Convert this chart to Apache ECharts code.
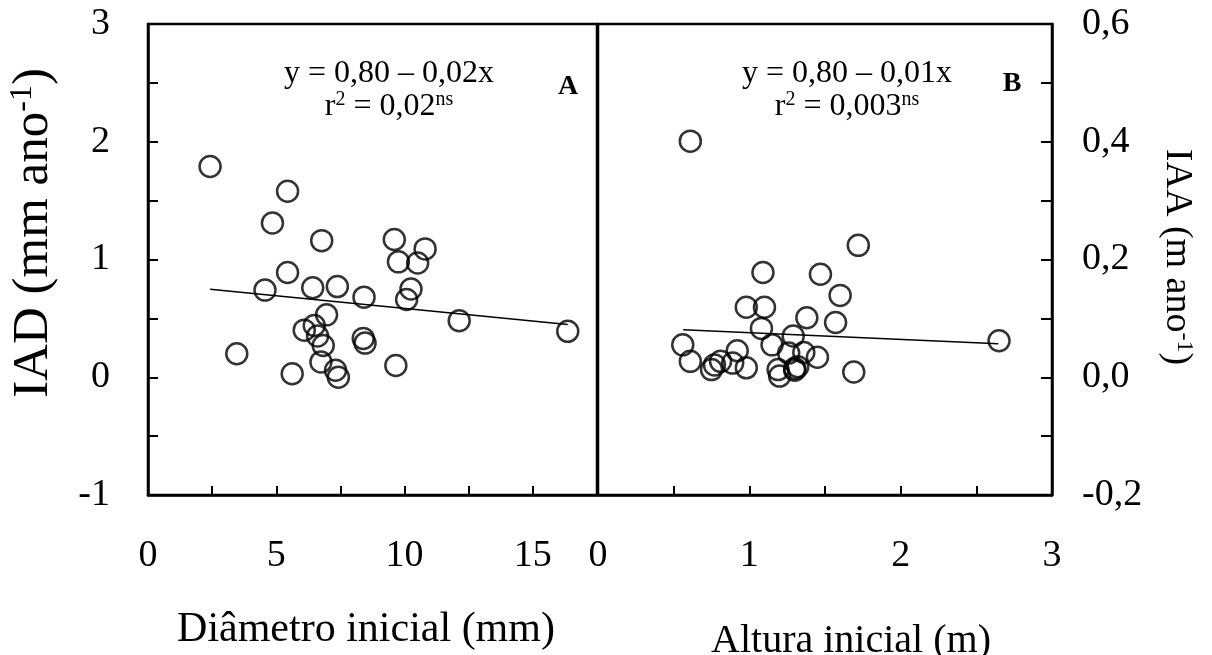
<!DOCTYPE html>
<html>
<head>
<meta charset="utf-8">
<script src="https://cdn.jsdelivr.net/npm/echarts@6/dist/echarts.min.js"></script>
<style>
  html, body { margin: 0; padding: 0; background: #fff; }
  #chart { width: 1212px; height: 655px; }
</style>
</head>
<body>
<div id="chart"></div>
<script>
// Panel A: initial diameter (mm) vs diameter increment IAD (mm/year)
const diametroA = [2.42, 5.44, 4.85, 6.77, 9.60, 10.80, 9.76, 10.51, 5.44, 4.56, 6.42, 7.38, 8.42, 10.25, 10.08,
                   12.13, 16.36, 6.96, 6.09, 6.48, 6.61, 6.83, 8.39, 8.46, 3.46, 6.74, 7.31, 7.42, 5.62, 9.66];
const iadA      = [1.79, 1.58, 1.31, 1.16, 1.17, 1.09, 0.98, 0.97, 0.89, 0.74, 0.76, 0.77, 0.68, 0.75, 0.66,
                   0.48, 0.39, 0.53, 0.40, 0.44, 0.35, 0.27, 0.33, 0.29, 0.20, 0.13, 0.06, 0.00, 0.03, 0.10];

// Panel B: initial height (m) vs height increment IAA (m/year)
const alturaB = [0.61, 1.72, 1.09, 1.47, 1.60, 0.98, 1.10, 1.38, 1.57, 1.08, 1.29, 2.65, 0.56, 1.15, 0.92,
                 1.26, 1.36, 1.45, 0.61, 0.81, 0.89, 0.77, 0.75, 0.98, 1.19, 1.20, 1.30, 1.32, 1.30, 1.69];
const iaaB    = [0.401, 0.224, 0.178, 0.175, 0.139, 0.119, 0.119, 0.101, 0.093, 0.083, 0.070, 0.062, 0.055, 0.055, 0.045,
                 0.041, 0.042, 0.034, 0.027, 0.027, 0.024, 0.021, 0.013, 0.016, 0.013, 0.002, 0.015, 0.018, 0.012, 0.009];

// Linear fits [intercept, slope] and the x span each fitted line covers
const fitA = [0.80, -0.0215];
const spanA = [2.42, 16.36];
const fitB = [0.087, -0.0114];
const spanB = [0.563, 2.645];

// Tick label values
const xTicksA = [0, 5, 10, 15];
const xTicksB = [0, 1, 2, 3];
const yTicksA = [-1, 0, 1, 2, 3];
const yTicksB = [-0.2, 0, 0.2, 0.4, 0.6];

const FONT = "'Liberation Serif', 'Times New Roman', serif";
const BLACK = '#000';

const pairs = (xs, ys) => xs.map((x, i) => [x, ys[i]]);
const fitLine = (fit, span) => span.map(x => [x, fit[0] + fit[1] * x]);
const near = (v, list) => list.some(t => Math.abs(v - t) < 1e-9);
const comma = v => (Math.round(v * 10) / 10).toFixed(1).replace('.', ',');

const axisLine = { show: true, onZero: false, lineStyle: { color: BLACK, width: 2.5 } };
const tick = len => ({ show: true, inside: true, length: len, lineStyle: { color: BLACK, width: 2 } });
const label = (margin, fmt) => ({
  show: true, margin: margin, color: BLACK, fontFamily: FONT, fontSize: 38,
  formatter: fmt, showMinLabel: true, showMaxLabel: true
});

const scatterStyle = {
  type: 'scatter', symbol: 'circle', symbolSize: 21,
  itemStyle: { color: 'rgba(0,0,0,0)', borderColor: BLACK, borderWidth: 2.5 },
  emphasis: { disabled: true }, z: 3
};
const lineStyle = {
  type: 'line', symbol: 'none', silent: true,
  lineStyle: { color: BLACK, width: 1.6 }, z: 2
};

const richMain = (size) => ({
  m: { fontFamily: FONT, fontSize: size, lineHeight: size + 1, fill: BLACK, color: BLACK, verticalAlign: 'bottom' },
  s: { fontFamily: FONT, fontSize: Math.round(size * 0.62), lineHeight: Math.round(size * 0.62) + 1, fill: BLACK, color: BLACK, verticalAlign: 'top' }
});

const option = {
  backgroundColor: '#fff',
  animation: false,
  grid: [
    { left: 148, top: 24, width: 449, height: 471, show: true, borderColor: BLACK, borderWidth: 2.5, backgroundColor: 'transparent' },
    { left: 598, top: 24, width: 454, height: 471, show: true, borderColor: BLACK, borderWidth: 2.5, backgroundColor: 'transparent' }
  ],
  xAxis: [
    {
      gridIndex: 0, type: 'value', min: 0, max: 17.5, interval: 2.5,
      axisLine: axisLine, axisTick: tick(9), splitLine: { show: false },
      axisLabel: label(42, v => near(v, xTicksA) ? String(Math.round(v)) : '')
    },
    {
      gridIndex: 1, type: 'value', min: 0, max: 3, interval: 0.5,
      axisLine: axisLine, axisTick: tick(9), splitLine: { show: false },
      axisLabel: label(42, v => near(v, xTicksB) ? String(Math.round(v)) : '')
    }
  ],
  yAxis: [
    {
      gridIndex: 0, type: 'value', min: -1, max: 3, interval: 0.5, position: 'left',
      axisLine: axisLine, axisTick: tick(10), splitLine: { show: false },
      axisLabel: label(38, v => near(v, yTicksA) ? String(Math.round(v)) : '')
    },
    {
      gridIndex: 1, type: 'value', min: -0.2, max: 0.6, interval: 0.1, position: 'right',
      axisLine: axisLine, axisTick: tick(11), splitLine: { show: false },
      axisLabel: label(30, v => near(v, yTicksB) ? comma(v) : '')
    }
  ],
  series: [
    Object.assign({ name: 'IAD', xAxisIndex: 0, yAxisIndex: 0, data: pairs(diametroA, iadA) }, scatterStyle),
    Object.assign({ name: 'Ajuste A', xAxisIndex: 0, yAxisIndex: 0, data: fitLine(fitA, spanA) }, lineStyle),
    Object.assign({ name: 'IAA', xAxisIndex: 1, yAxisIndex: 1, data: pairs(alturaB, iaaB) }, scatterStyle),
    Object.assign({ name: 'Ajuste B', xAxisIndex: 1, yAxisIndex: 1, data: fitLine(fitB, spanB) }, lineStyle)
  ],
  graphic: [
    // regression equations
    {
      type: 'text', x: 389, y: 90, z: 10,
      style: {
        text: '{m|y = 0,80 – 0,02x}\n{m|r}{s|2}{m| = 0,02}{s|ns}',
        align: 'center', verticalAlign: 'middle', rich: richMain(32)
      }
    },
    {
      type: 'text', x: 847, y: 90, z: 10,
      style: {
        text: '{m|y = 0,80 – 0,01x}\n{m|r}{s|2}{m| = 0,003}{s|ns}',
        align: 'center', verticalAlign: 'middle', rich: richMain(32)
      }
    },
    // panel letters
    {
      type: 'text', x: 568, y: 87, z: 10,
      style: { text: 'A', fill: BLACK, font: 'bold 28px ' + FONT, align: 'center', verticalAlign: 'middle' }
    },
    {
      type: 'text', x: 1012, y: 84, z: 10,
      style: { text: 'B', fill: BLACK, font: 'bold 28px ' + FONT, align: 'center', verticalAlign: 'middle' }
    },
    // axis titles
    {
      type: 'text', x: 366, y: 630, z: 10,
      style: { text: 'Diâmetro inicial (mm)', fill: BLACK, font: '42px ' + FONT, align: 'center', verticalAlign: 'middle' }
    },
    {
      type: 'text', x: 851, y: 641, z: 10,
      style: { text: 'Altura inicial (m)', fill: BLACK, font: '40px ' + FONT, align: 'center', verticalAlign: 'middle' }
    },
    {
      type: 'text', x: 33, y: 233, z: 10, rotation: Math.PI / 2,
      style: { text: '{m|IAD (mm ano}{s|-1}{m|)}', align: 'center', verticalAlign: 'middle', rich: richMain(51) }
    },
    {
      type: 'text', x: 1177, y: 257, z: 10, rotation: -Math.PI / 2,
      style: { text: '{m|IAA (m ano}{s|-1}{m|)}', align: 'center', verticalAlign: 'middle', rich: richMain(38) }
    }
  ]
};

const chart = echarts.init(document.getElementById('chart'), null, { renderer: 'canvas' });
chart.setOption(option);
</script>
</body>
</html>
